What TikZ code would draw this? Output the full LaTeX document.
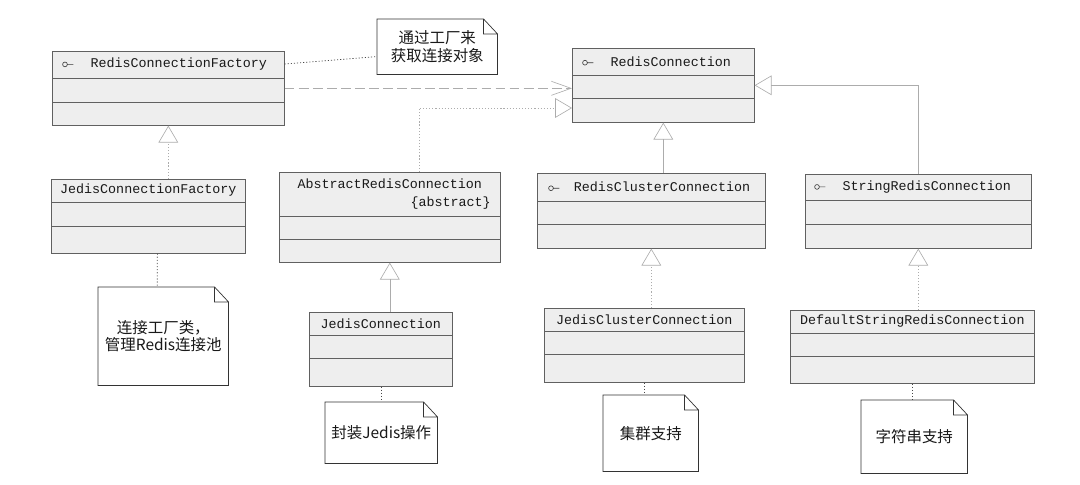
\documentclass[tikz,border=0pt]{standalone}
\usepackage{fontspec}
\setmonofont{Liberation Mono}
\newfontfamily\cjk{Noto Sans CJK SC}
\usetikzlibrary{arrows.meta,calc}
\newcommand{\pxu}{0.025cm}
\newcommand{\ifc}{\tikz[baseline=-0.5ex]\draw[gray!45!black,line width=.45pt] (0,0) circle (1.7pt) (1.7pt,0) -- (6pt,0);}

\tikzset{
  cls/.style={draw=gray!75!black, fill=gray!13, line width=.45pt, inner sep=0pt, anchor=north west},
  ctitle/.style={font=\ttfamily\fontsize{9.5}{11}\selectfont, text=gray!20!black, inner sep=0pt},
  note/.style={fill=white, inner sep=0pt, anchor=north west, align=center,
    font=\cjk\fontsize{11}{12.5}\selectfont, text=gray!20!black},
  sepline/.style={draw=gray!75!black, line width=.4pt},
  notebd/.style={draw=gray!40!black, line width=.5pt},
  realize/.style={draw=gray!65, line width=.45pt, dash pattern=on .8pt off 1.4pt,
    -{Triangle[open,length=12pt,width=14pt]}},
  inherit/.style={draw=gray!65, line width=.45pt, -{Triangle[open,length=12pt,width=14pt]}},
  depend/.style={draw=gray!65, line width=.45pt, dash pattern=on 7pt off 3pt,
    -{Straight Barb[length=14pt,width=10pt]}},
  anno/.style={draw=gray!55!black, line width=.45pt, dash pattern=on .8pt off 1.4pt},
}

\begin{document}
\begin{tikzpicture}[x=0.025cm, y=-0.025cm]
  \useasboundingbox (0,0) rectangle (1080,485);
  % classes
  \node[cls, minimum width=232*\pxu, minimum height=74*\pxu] (rcf) at (52,51) {};
  \node[cls, minimum width=182*\pxu, minimum height=74*\pxu] (rc) at (572,48) {};
  \node[cls, minimum width=194*\pxu, minimum height=74*\pxu] (jcf) at (51,179) {};
  \node[cls, minimum width=221*\pxu, minimum height=90*\pxu] (arc) at (279,172) {};
  \node[cls, minimum width=228*\pxu, minimum height=75*\pxu] (rcc) at (537,173) {};
  \node[cls, minimum width=226*\pxu, minimum height=74*\pxu] (src) at (805,174) {};
  \node[cls, minimum width=143*\pxu, minimum height=74*\pxu] (jc) at (309,312) {};
  \node[cls, minimum width=200*\pxu, minimum height=74*\pxu] (jcc) at (544,308) {};
  \node[cls, minimum width=244*\pxu, minimum height=73*\pxu] (dsrc) at (790,310) {};
  \foreach \c/\a/\b in {rcf/27/51, rc/27/50, jcf/23/47, arc/44/67, rcc/28/51,
      src/26/50, jc/23/46, jcc/23/46, dsrc/23/46}
    \draw[sepline] ($(\c.north west)+(0,\a)$) -- ($(\c.north east)+(0,\a)$)
      ($(\c.north west)+(0,\b)$) -- ($(\c.north east)+(0,\b)$);

  % class names
  \node[ctitle, anchor=west] (rcft) at ($(rcf.north west)+(10,13.5)$) {\ifc\hspace{12pt}RedisConnectionFactory};
  \node[ctitle, anchor=west] (rct) at ($(rc.north west)+(10,13.5)$) {\ifc\hspace{12pt}RedisConnection};
  \node[ctitle] (jcft) at ($(jcf.north)+(0,11.5)$) {JedisConnectionFactory};
  \node[ctitle] (arct) at ($(arc.north)+(0,12)$) {AbstractRedisConnection};
  \node[ctitle, anchor=east] (arca) at ($(arc.north west)+(212,31)$) {\{abstract\}};
  \node[ctitle, anchor=west] (rcct) at ($(rcc.north west)+(11,14)$) {\ifc\hspace{10pt}RedisClusterConnection};
  \node[ctitle, anchor=west] (srct) at ($(src.north west)+(9,13)$) {\ifc\hspace{12pt}StringRedisConnection};
  \node[ctitle] (jct) at ($(jc.north)+(0,11.5)$) {JedisConnection};
  \node[ctitle] (jcct) at ($(jcc.north)+(0,11.5)$) {JedisClusterConnection};
  \node[ctitle] (dsrct) at ($(dsrc.north)+(0,11.5)$) {DefaultStringRedisConnection};

  % notes
  \node[note, minimum width=120*\pxu, minimum height=55*\pxu] (n1) at (377,19) {通过工厂来\\获取连接对象};
  \node[note, minimum width=130*\pxu, minimum height=98*\pxu] (n2) at (98,287) {连接工厂类，\\管理Redis连接池};
  \node[note, minimum width=112*\pxu, minimum height=61*\pxu] (n3) at (325,402) {封装Jedis操作};
  \node[note, minimum width=95*\pxu, minimum height=76*\pxu] (n4) at (603,395) {集群支持};
  \node[note, minimum width=106*\pxu, minimum height=73*\pxu] (n5) at (861,400) {字符串支持};
  \foreach \n in {n1,n2,n3,n4,n5}
    \draw[notebd] (\n.north west) -- ($(\n.north east)+(-14,0)$) -- ($(\n.north east)+(0,15)$)
      -- (\n.south east) -- (\n.south west) -- cycle
      ($(\n.north east)+(-14,0)$) |- ($(\n.north east)+(0,15)$);

  % relations
  \draw[anno] ($(rcf.north east)+(0,13)$) -- ($(n1.south west)+(0,-18)$);
  \draw[depend] (rcf.east) -- (rcf.east -| rc.west);
  \draw[realize] ($(arc.north west)+(140,0)$) |- ($(rc.north west)+(0,60)$);
  \draw[inherit] (rcc.north -| rc.south) -- (rc.south);
  \draw[inherit] (src.north) |- (rc.east);
  \draw[realize] (jcf.north -| rcf.south) -- (rcf.south);
  \draw[anno] ($(jcf.south)+(9,0)$) -- ($(n2.north)+(-6,0)$);
  \draw[inherit] (jc.north -| arc.south) -- (arc.south);
  \draw[anno] (jc.south) -- (jc.south |- n3.north);
  \draw[realize] (jcc.north -| rcc.south) -- (rcc.south);
  \draw[anno] (jcc.south) -- (jcc.south |- n4.north);
  \draw[realize] (dsrc.north -| src.south) -- (src.south);
  \draw[anno] (dsrc.south) -- (dsrc.south |- n5.north);
\end{tikzpicture}
\end{document}
